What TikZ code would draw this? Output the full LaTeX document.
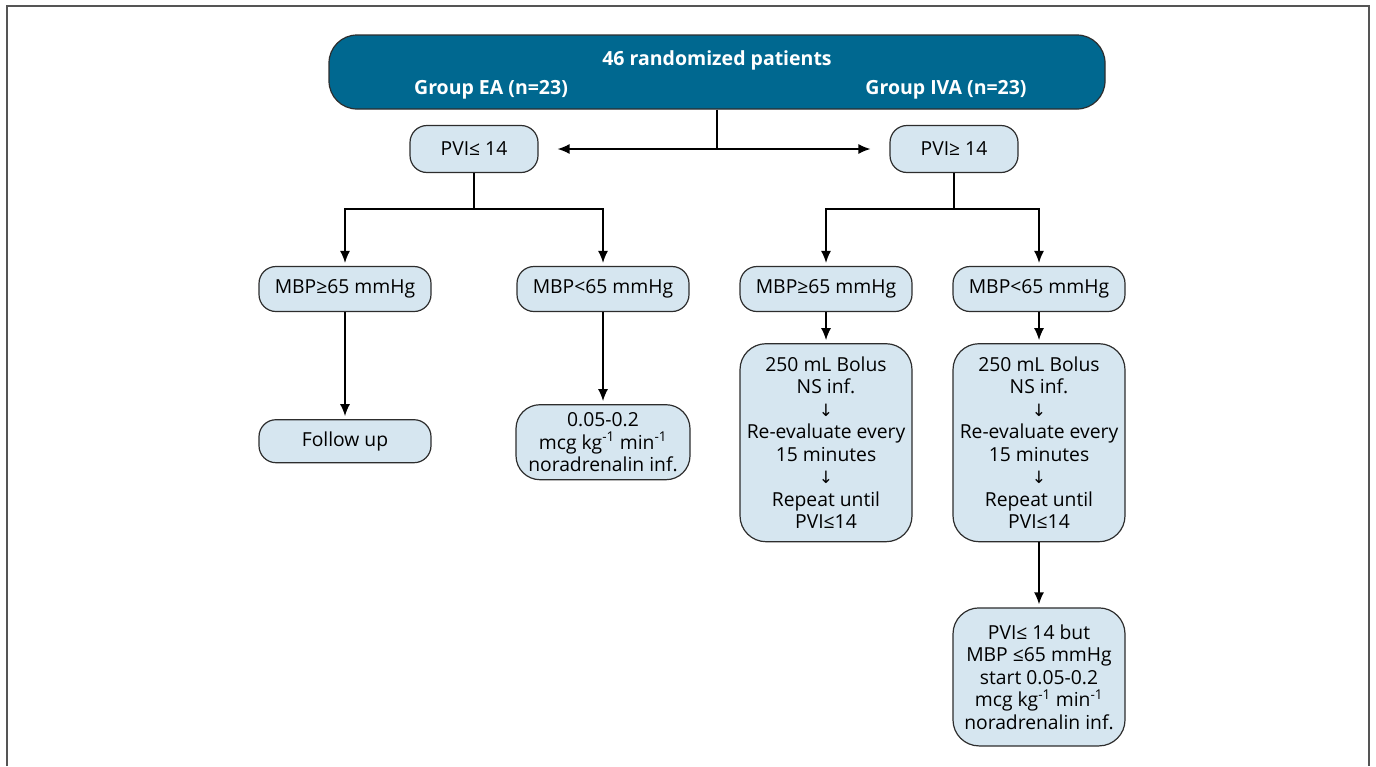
\documentclass[tikz,border=0pt]{standalone}
\usepackage{fontspec}
\setmainfont{Open Sans}
\newfontfamily\arrowfont{DejaVu Sans}
\usetikzlibrary{arrows.meta,positioning}
\definecolor{headblue}{RGB}{0,104,144}
\definecolor{boxblue}{RGB}{214,230,240}
\definecolor{edgegray}{RGB}{45,45,45}
\definecolor{framegray}{RGB}{85,85,85}
\tikzstyle{head}=[rectangle,draw=edgegray,line width=1.2pt,rounded corners=28pt,fill=headblue,minimum width=776pt,minimum height=74pt]
\tikzstyle{headtxt}=[text=white,font=\fontsize{19.5}{22}\selectfont\bfseries,inner sep=0pt]
\tikzstyle{pill}=[rectangle,draw=edgegray,line width=1.2pt,rounded corners=17pt,fill=boxblue,align=center,minimum width=172pt,minimum height=45pt,inner sep=2pt,font=\fontsize{19.3}{22.5}\selectfont]
\tikzstyle{tall}=[pill,rounded corners=26pt]
\tikzstyle{line}=[line width=1.4pt]
\tikzstyle{arr}=[line,-{Latex[length=12pt,width=10pt]},shorten >=3pt]
\tikzstyle{arrLR}=[line,{Latex[length=12pt,width=10pt]}-{Latex[length=12pt,width=10pt]},shorten <=19pt,shorten >=19pt]
\newcommand{\dn}{{\arrowfont\fontsize{17}{14}\selectfont ↓}}

\begin{document}
\begin{tikzpicture}[x=1pt,y=-1pt]
\useasboundingbox (0,0) rectangle (1376,766);
% outer frame, open at the bottom
\draw[framegray,line width=1.5pt] (7,766) -- (7,6) -- (1369,6) -- (1369,766);

% header
\node (top) [head] at (717,72) {};
\node (title) [headtxt] at (717,60) {46 randomized patients};
\node (grpEA) [headtxt] at (491,90) {Group EA (n=23)};
\node (grpIVA) [headtxt] at (946,90) {Group IVA (n=23)};

% PVI split
\node (pviL) [pill,minimum width=128pt,minimum height=47pt] at (474,149) {PVI≤ 14};
\node (pviR) [pill,minimum width=128pt,minimum height=47pt] at (954,149) {PVI≥ 14};

% MBP level
\node (mbpLL) [pill] at (345,289) {MBP≥65 mmHg};
\node (mbpLR) [pill] at (603,289) {MBP<65 mmHg};
\node (mbpRL) [pill] at (826,289) {MBP≥65 mmHg};
\node (mbpRR) [pill] at (1039,289) {MBP<65 mmHg};

% actions
\node (follow) [pill,minimum height=43pt,below=107pt of mbpLL] {Follow up};
\node (dose) [pill,minimum width=174pt,minimum height=75pt,rounded corners=24pt,below=92pt of mbpLR] {0.05-0.2\\mcg kg\textsuperscript{-1} min\textsuperscript{-1}\\noradrenalin inf.};
\node (bolusL) [tall,minimum height=198pt,below=31pt of mbpRL] {250 mL Bolus\\NS inf.\\\dn\\Re-evaluate every\\15 minutes\\\dn\\Repeat until\\PVI≤14};
\node (bolusR) [tall,minimum height=198pt,below=31pt of mbpRR] {250 mL Bolus\\NS inf.\\\dn\\Re-evaluate every\\15 minutes\\\dn\\Repeat until\\PVI≤14};
\node (late) [tall,minimum height=138pt,below=65pt of bolusR] {PVI≤ 14 but\\MBP ≤65 mmHg\\start 0.05-0.2\\mcg kg\textsuperscript{-1} min\textsuperscript{-1}\\noradrenalin inf.};

\coordinate (splitTop) at (717,149);
\coordinate (splitL) at (474,209);
\coordinate (splitR) at (954,209);

\draw [line] (top) -- (splitTop);
\draw [arrLR] (pviL) -- (pviR);
\draw [line] (pviL) -- (splitL);
\draw [arr] (splitL) -| (mbpLL);
\draw [arr] (splitL) -| (mbpLR);
\draw [line] (pviR) -- (splitR);
\draw [arr] (splitR) -| (mbpRL);
\draw [arr] (splitR) -| (mbpRR);
\draw [arr] (mbpLL) -- (follow);
\draw [arr] (mbpLR) -- (dose);
\draw [arr] (mbpRL) -- (bolusL);
\draw [arr] (mbpRR) -- (bolusR);
\draw [arr] (bolusR) -- (late);
\end{tikzpicture}
\end{document}
